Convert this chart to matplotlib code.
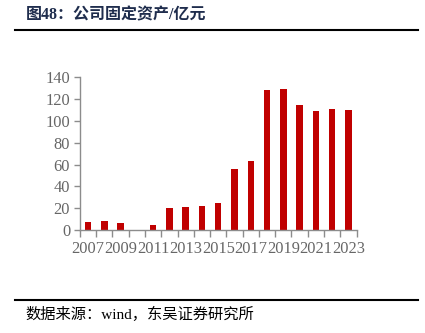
import matplotlib
matplotlib.use("Agg")
import matplotlib.pyplot as plt
from matplotlib.lines import Line2D

years = list(range(2007, 2024))
assets = [7.6, 8.2, 6.4, 0.0, 4.3, 20.5, 20.8, 22.0, 25.0, 56.0, 63.0,
          128.0, 129.2, 114.6, 109.0, 111.2, 109.7]
tick_labels = [str(y) if (y - 2007) % 2 == 0 else "" for y in years]

title = "图48：公司固定资产/亿元"
source = "数据来源：wind，东吴证券研究所"

fonts = ["Liberation Serif", "Noto Sans CJK SC"]
grey = "#666666"
axis_grey = "#8c8c8c"

fig = plt.figure(figsize=(4.25, 3.33), dpi=100)
ax = fig.add_axes([0.188, 0.309, 0.651, 0.459])

x = list(range(len(years)))
ax.bar(x, assets, width=0.4, color="#c00000")

ax.set_xlim(-0.5, len(years) - 0.5)
ax.set_ylim(0, 140)
ax.set_yticks(range(0, 141, 20))

# labels sit under the bars, tick marks go between categories
ax.set_xticks(x)
ax.set_xticklabels(tick_labels)
ax.set_xticks([i - 0.5 for i in range(len(years) + 1)], minor=True)
ax.tick_params(axis="x", which="major", length=0, pad=8)
ax.tick_params(axis="x", which="minor", length=5, width=1, color=axis_grey, direction="out")
ax.tick_params(axis="y", length=4, width=1, color=axis_grey, direction="out", pad=3)

for lab in ax.get_xticklabels() + ax.get_yticklabels():
    lab.set_family(fonts)
    lab.set_fontsize(11.8)
    lab.set_color(grey)

for side in ["top", "right"]:
    ax.spines[side].set_visible(False)
for side in ["left", "bottom"]:
    ax.spines[side].set_color(axis_grey)
    ax.spines[side].set_linewidth(1)

fig.text(0.061, 0.955, title, family=fonts, fontsize=11.5, fontweight="bold",
         color="#1f2d4d", va="center", ha="left")
fig.add_artist(Line2D([0.035, 0.984], [0.91, 0.91], color="black", linewidth=1.5))
fig.add_artist(Line2D([0.035, 0.984], [0.099, 0.099], color="black", linewidth=1.5))
fig.text(0.059, 0.057, source, family=fonts, fontsize=11, color="black",
         va="center", ha="left")

fig.savefig("out.png", dpi=100)
